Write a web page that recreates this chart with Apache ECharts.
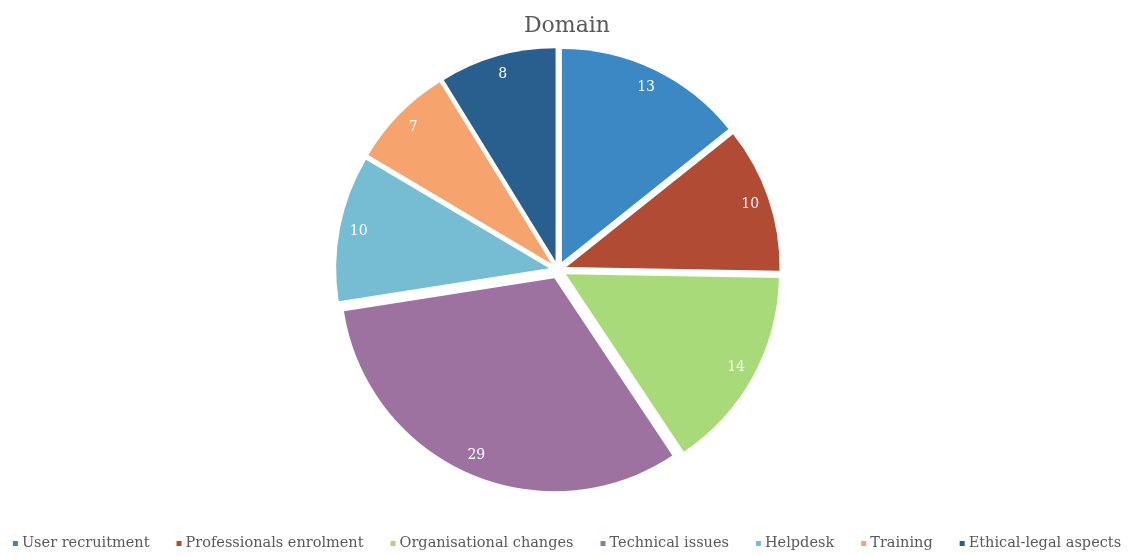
<!DOCTYPE html>
<html>
<head>
<meta charset="utf-8">
<script src="https://cdn.jsdelivr.net/npm/echarts@6/dist/echarts.min.js"></script>
<style>
  html, body { margin: 0; padding: 0; background: #fff; }
  #chart { width: 1134px; height: 556px; }
</style>
</head>
<body>
<div id="chart"></div>
<script>
// Domain breakdown
const categories = ['User recruitment', 'Professionals enrolment', 'Organisational changes', 'Technical issues', 'Helpdesk', 'Training', 'Ethical-legal aspects'];
const counts = [13, 10, 14, 29, 10, 7, 8];
const colors = ['#3B88C4', '#B24B33', '#A9DA7A', '#9D72A1', '#76BDD3', '#F6A36E', '#285F8F'];

const FONT = 'DejaVu Serif';
const CENTER = [558, 270];
const R = 213;
const OFFSET = 9;

const sliceData = categories.map((name, i) => ({
  name, value: counts[i], selected: true, itemStyle: { color: colors[i] }
}));
// Label ring: transparent slices whose midpoint sits near the outer edge
const labelData = categories.map((name, i) => ({
  name, value: counts[i], selected: true, itemStyle: { color: 'rgba(0,0,0,0)' }
}));

const chart = echarts.init(document.getElementById('chart'), null, { renderer: 'canvas' });
chart.setOption({
  animation: false,
  color: colors,
  title: {
    text: 'Domain', left: 'center', top: 10,
    textStyle: { fontFamily: FONT, fontSize: 22, fontWeight: 'normal', color: '#595959' }
  },
  legend: {
    bottom: 0, left: 'center', itemWidth: 5, itemHeight: 5, itemGap: 27,
    icon: 'rect', selectedMode: false,
    textStyle: { fontFamily: FONT, fontSize: 14.5, color: '#595959', padding: [0, 0, 0, -1] },
    data: categories
  },
  series: [
    {
      type: 'pie', center: CENTER, radius: [0, R], startAngle: 90, clockwise: true,
      selectedMode: 'multiple', selectedOffset: OFFSET, silent: true,
      label: { show: false }, labelLine: { show: false },
      itemStyle: { borderWidth: 0 },
      data: sliceData
    },
    {
      type: 'pie', center: CENTER, radius: [R - 44, R], startAngle: 90, clockwise: true,
      selectedMode: 'multiple', selectedOffset: OFFSET, silent: true,
      label: { show: true, position: 'inside', formatter: '{c}', fontFamily: FONT, fontSize: 14, color: '#fff' },
      labelLine: { show: false },
      data: labelData
    }
  ]
});
</script>
</body>
</html>
